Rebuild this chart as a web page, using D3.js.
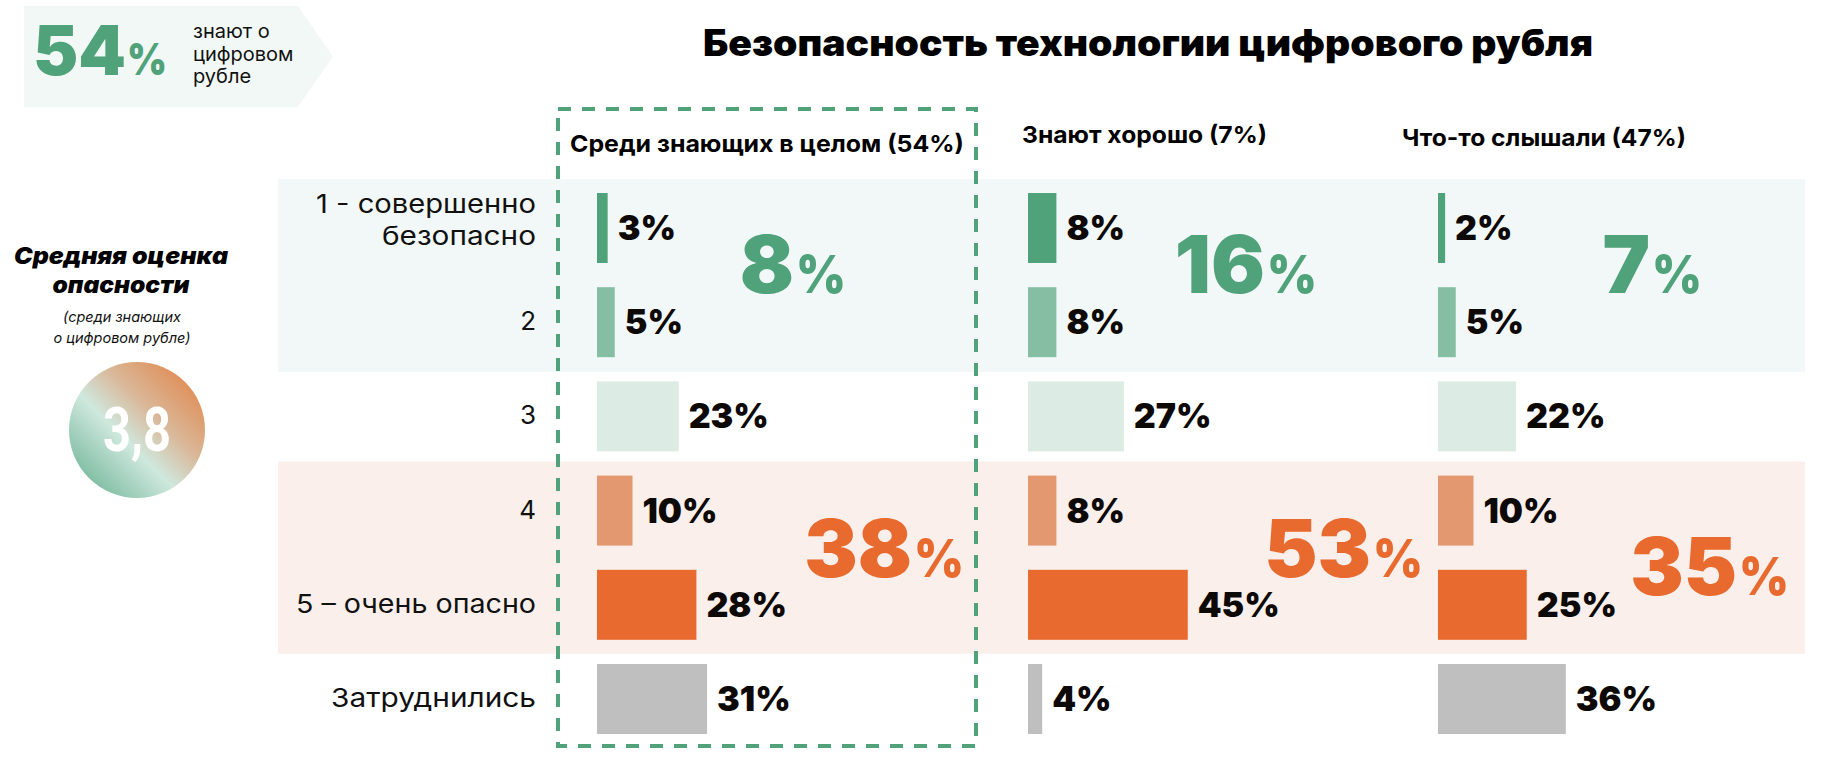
<!DOCTYPE html>
<html><head><meta charset="utf-8">
<script src="https://cdn.jsdelivr.net/npm/d3@7"></script>
<style>
body{margin:0;background:#fff;}
svg{display:block;font-family:Inter,"Open Sans",sans-serif;}
</style>
</head><body>
<svg id="c" width="1836" height="766"></svg>
<script>
// ---------- data ----------
const title = "Безопасность технологии цифрового рубля";
const rows = ["r1","r2","r3","r4","r5","r6"];
const rowLabels = [["1 - совершенно","безопасно"],["2"],["3"],["4"],["5 – очень опасно"],["Затруднились"]];
const groups = ["Среди знающих в целом (54%)","Знают хорошо (7%)","Что-то слышали (47%)"];
const valuesAll = [3,5,23,10,28,31];
const valuesGood = [8,8,27,8,45,4];
const valuesHeard = [2,5,22,10,25,36];
const safeTotals = [8,16,7];
const dangerTotals = [38,53,35];
const awareShare = 54;
const awareText = ["знают о","цифровом","рубле"];
const avgTitle = ["Средняя оценка","опасности"];
const avgNote = ["(среди знающих","о цифровом рубле)"];
const avgScore = "3,8";

// ---------- styles / layout ----------
const rowColors = ["#4fa27a","#85bea3","#dcece4","#e39870","#e96a2f","#bfbfbf"];
const green = "#4fa27a", orange = "#e96a2f";
const series = [valuesAll, valuesGood, valuesHeard];
const rowLabelWidths = [[220,154],[null],[null],[null],[240],[205]];

const svg = d3.select("#c");
const y = d3.scaleBand().domain(rows).range([168.8, 758.2]).paddingInner(0.257).paddingOuter(0.257);
const bw = y.bandwidth();
const x = d3.scaleLinear().domain([0,100]).range([0,355]);
const colX = d3.scaleOrdinal().domain(groups).range([597,1028,1438]);

// background bands
svg.append("rect").attr("x",278).attr("width",1805-278)
  .attr("y",y("r1")-14).attr("height",(y("r2")+bw+15)-(y("r1")-14)).attr("fill","#f2f8f7");
svg.append("rect").attr("x",278).attr("width",1805-278)
  .attr("y",y("r4")-14).attr("height",(y("r5")+bw+14)-(y("r4")-14)).attr("fill","#faefea");

// title
svg.append("text").attr("x",1148).attr("y",56).attr("text-anchor","middle")
  .attr("font-size",37).attr("font-weight",900).attr("fill","#000")
  .attr("textLength",890).attr("lengthAdjust","spacingAndGlyphs").text(title);

// top-left badge
svg.append("path").attr("d","M24,6H298L333,56.5L298,107H24Z").attr("fill","#f2f8f6");
svg.append("text").attr("x",33).attr("y",75).attr("fill",green)
  .attr("font-weight",900).attr("font-size",69)
  .attr("textLength",93).attr("lengthAdjust","spacingAndGlyphs").text(awareShare);
svg.append("text").attr("x",127).attr("y",75).attr("fill",green)
  .attr("font-weight",900).attr("font-size",44)
  .attr("textLength",40).attr("lengthAdjust","spacingAndGlyphs").text("%");
svg.selectAll("text.aw").data(awareText).join("text").attr("class","aw")
  .attr("x",193).attr("y",(d,i)=>38+i*22.5).attr("font-size",20).attr("fill","#111").text(d=>d);

// left panel
svg.selectAll("text.avt").data(avgTitle).join("text").attr("class","avt")
  .attr("x",121).attr("y",(d,i)=>264+i*29).attr("text-anchor","middle")
  .attr("font-size",23).attr("font-weight",900).attr("font-style","italic").attr("fill","#000")
  .attr("textLength",(d,i)=>i?137:214).attr("lengthAdjust","spacingAndGlyphs").text(d=>d);
svg.selectAll("text.avn").data(avgNote).join("text").attr("class","avn")
  .attr("x",122).attr("y",(d,i)=>322+i*21).attr("text-anchor","middle")
  .attr("font-size",14.5).attr("font-style","italic").attr("fill","#111").text(d=>d);

const defs = svg.append("defs");
const lg = defs.append("linearGradient").attr("id","cg").attr("x1","0").attr("y1","1").attr("x2","1").attr("y2","0");
[[0,"#5aa986"],[0.42,"#cfe8de"],[0.62,"#d9b899"],[1,"#e47a38"]].forEach(s=>
  lg.append("stop").attr("offset",s[0]).attr("stop-color",s[1]));
svg.append("circle").attr("cx",137).attr("cy",430).attr("r",68).attr("fill","url(#cg)");
svg.append("text").attr("x",137).attr("y",451).attr("text-anchor","middle")
  .attr("font-family","Roboto, sans-serif").attr("font-weight",700).attr("font-size",62)
  .attr("fill","#fff").attr("textLength",68).attr("lengthAdjust","spacingAndGlyphs").text(avgScore);

// row labels
rows.forEach((r,i)=>{
  const lines = rowLabels[i];
  const cy = y(r)+bw/2;
  lines.forEach((l,j)=>{
    const base = lines.length>1 ? cy-15+j*32 : cy+8;
    const t = svg.append("text").attr("text-anchor","end").attr("font-size",26).attr("fill","#111")
      .attr("x",536).attr("y",base).text(l);
    const w = rowLabelWidths[i][j];
    if (w) t.attr("textLength",w).attr("lengthAdjust","spacingAndGlyphs");
  });
});

// dashed highlight box
svg.append("rect").attr("x",558).attr("y",109).attr("width",418).attr("height",637)
  .attr("fill","none").attr("stroke",green).attr("stroke-width",4).attr("stroke-dasharray","13 11");

// headers
const headerPos = [[570,152],[1022,143],[1402,146]];
const headerW = [394,245,284];
svg.selectAll("text.hdr").data(groups).join("text").attr("class","hdr")
  .attr("x",(d,i)=>headerPos[i][0]).attr("y",(d,i)=>headerPos[i][1])
  .attr("font-size",23.5).attr("font-weight",700).attr("fill","#000")
  .attr("textLength",(d,i)=>headerW[i]).attr("lengthAdjust","spacingAndGlyphs").text(d=>d);

// bars + labels
groups.forEach((g,gi)=>{
  const G = svg.append("g").attr("transform",`translate(${colX(g)},0)`);
  const vals = series[gi];
  G.selectAll("rect").data(vals).join("rect")
    .attr("x",0).attr("y",(d,i)=>y(rows[i])).attr("width",d=>x(d)).attr("height",bw)
    .attr("fill",(d,i)=>rowColors[i]);
  G.selectAll("text").data(vals).join("text")
    .attr("x",d=>x(d)+10).attr("y",(d,i)=>y(rows[i])+bw/2+12)
    .attr("font-size",34).attr("font-weight",900).attr("fill","#0d0907").text(d=>d+"%");
});

// group totals: [split offset from column start, baseline]
const safeAnchor = [[198,293],[238,293],[213,293]];
const dangerAnchor = [[316,577],[344,577],[300,595]];
function bigNum(v,gi,anchor,color){
  const a = anchor[gi];
  const sx = colX(groups[gi]) + a[0];
  svg.append("text").attr("x",sx-1).attr("y",a[1]).attr("text-anchor","end")
    .attr("fill",color).attr("font-weight",900).attr("font-size",80).text(v);
  svg.append("text").attr("x",sx+1).attr("y",a[1]).attr("text-anchor","start")
    .attr("fill",color).attr("font-weight",900).attr("font-size",52)
    .attr("textLength",50).attr("lengthAdjust","spacingAndGlyphs").text("%");
}
safeTotals.forEach((v,i)=>bigNum(v,i,safeAnchor,green));
dangerTotals.forEach((v,i)=>bigNum(v,i,dangerAnchor,orange));
</script>
</body></html>
